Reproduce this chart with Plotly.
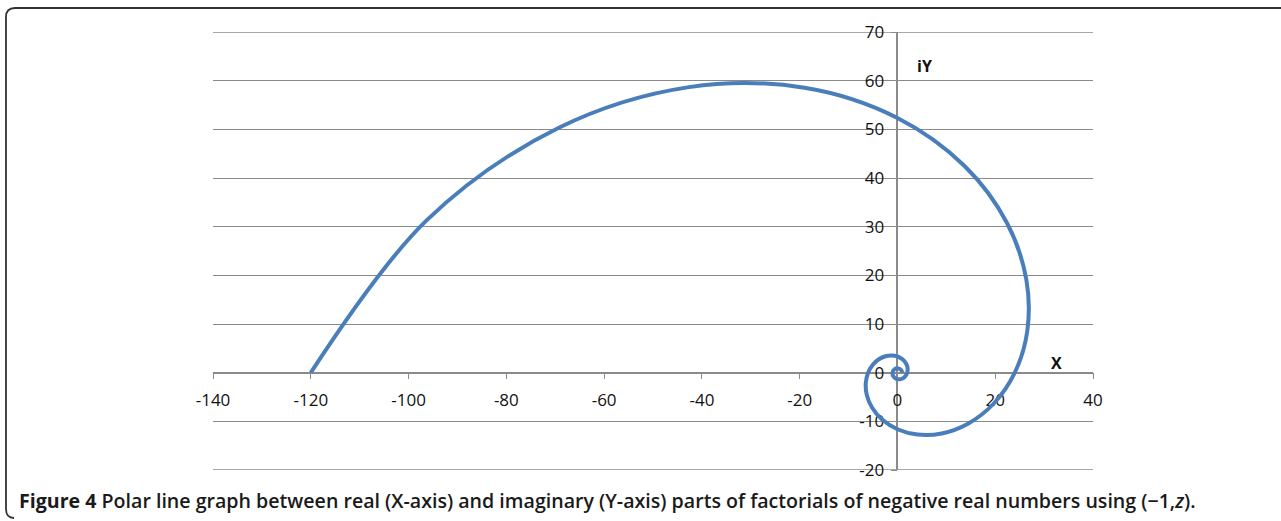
import plotly.graph_objects as go

# Real and imaginary parts of z! * (-1)^z for z = 0.0, 0.1, ..., 5.0
real_part = [
    1.0, 0.9048, 0.7428, 0.5275, 0.2742, 0.0, -0.2761, -0.5341, -0.7535, -0.9147,
    -1.0, -0.9953, -0.8914, -0.6858, -0.3839, 0.0, 0.4418, 0.9080, 1.3563, 1.7379,
    2.0, 2.0901, 1.9610, 1.5773, 0.9213, 0.0, -1.1486, -2.4515, -3.7977, -5.0400,
    -6.0, -6.4792, -6.2753, -5.2051, -3.1323, 0.0, 4.1351, 9.0705, 14.4312, 19.6560,
    24.0, 26.5649, 26.3564, 22.3816, 13.7819, 0.0, -19.0215, -42.6311, -69.2696, -96.3142,
    -120.0,
]
imag_part = [
    0.0, 0.2940, 0.5397, 0.7261, 0.8438, 0.8862, 0.8498, 0.7351, 0.5475, 0.2972,
    0.0, -0.3234, -0.6476, -0.9439, -1.1814, -1.3293, -1.3597, -1.2497, -0.9854, -0.5647,
    0.0, 0.6791, 1.4248, 2.1710, 2.8353, 3.3234, 3.5351, 3.3742, 2.7592, 1.6376,
    0.0, -2.1052, -4.5593, -7.1642, -9.6400, -11.6317, -12.7265, -12.4843, -10.4849, -6.3866,
    0.0, 8.6315, 19.1491, 30.8059, 42.4162, 52.3428, 58.5417, 58.6764, 50.3276, 31.2946,
    0.0,
]

x_ticks = [-140, -120, -100, -80, -60, -40, -20, 0, 20, 40]
x_tick_labels = ["-140", "-120", "-100", "-80", "-60", "-40", "-20", "0", "20", "40"]
y_ticks = [-20, -10, 0, 10, 20, 30, 40, 50, 60, 70]
y_tick_labels = ["-20", "-10", "0", "10", "20", "30", "40", "50", "60", "70"]

W, H = 1281, 521
L, R, T, B = 213, 1093, 32, 470  # plot area in pixels


def px(xp):
    return (xp - L) / (R - L)


def py(yp):
    return (B - yp) / (B - T)


GRID = "#8a8a8a"
TICK_FONT = dict(family="Open Sans", size=17, color="#111111")

fig = go.Figure()
fig.add_trace(go.Scatter(
    x=real_part, y=imag_part, mode="lines",
    line=dict(color="#4a7ebb", width=4, shape="spline", smoothing=1),
    hoverinfo="x+y", showlegend=False,
))

fig.update_layout(
    width=W, height=H,
    margin=dict(l=L, r=W - R, t=T, b=H - B),
    paper_bgcolor="white", plot_bgcolor="white",
    xaxis=dict(
        range=[-140, 40], tickvals=x_ticks, ticktext=x_tick_labels,
        anchor="free", position=20 / 90,
        showgrid=False, zeroline=False,
        showline=True, linecolor=GRID, linewidth=1.5,
        ticks="outside", ticklen=6, tickcolor=GRID, tickwidth=1.3,
        ticklabelstandoff=6, tickfont=TICK_FONT, layer="below traces",
        fixedrange=True,
    ),
    yaxis=dict(
        range=[-20, 70], tickvals=y_ticks, ticktext=y_tick_labels,
        anchor="free", position=140 / 180, side="left",
        showgrid=True, gridcolor=GRID, gridwidth=1.4, zeroline=False,
        showline=True, linecolor=GRID, linewidth=1.5,
        ticks="outside", ticklen=6, tickcolor=GRID, tickwidth=1.3,
        ticklabelstandoff=3, tickfont=TICK_FONT, layer="below traces",
        fixedrange=True,
    ),
    annotations=[
        dict(x=5.6, y=63, xref="x", yref="y", text="<b>iY</b>", showarrow=False,
             font=dict(family="Open Sans", size=16, color="#111111")),
        dict(x=32.6, y=2.0, xref="x", yref="y", text="<b>X</b>", showarrow=False,
             font=dict(family="Open Sans", size=16, color="#111111")),
        dict(x=px(17), y=py(500), xref="paper", yref="paper", xanchor="left", yanchor="middle",
             text="<b>Figure 4</b> Polar line graph between real (X-axis) and imaginary (Y-axis) "
                  "parts of factorials of negative real numbers using (\u22121,<i>z</i>).",
             showarrow=False,
             font=dict(family="Open Sans", size=19.6, color="#1a1a1a", weight=600)),
    ],
)

# Gridlines on the top and bottom edges of the value range
for edge in (y_ticks[0], y_ticks[-1]):
    fig.add_shape(type="line", xref="paper", yref="y", x0=0, x1=1, y0=edge, y1=edge,
                  line=dict(color=GRID, width=1.4), layer="below")

# Rounded frame around the figure panel
frame = (
    f"M {px(1285)} {py(8)} L {px(15)} {py(8)} "
    f"Q {px(6)} {py(8)} {px(6)} {py(17)} "
    f"L {px(6)} {py(509)} "
    f"Q {px(6)} {py(518)} {px(14)} {py(518)}"
)
fig.add_shape(type="path", path=frame, xref="paper", yref="paper",
              line=dict(color="#333333", width=1.8), layer="above")

fig.write_html("out.html")
